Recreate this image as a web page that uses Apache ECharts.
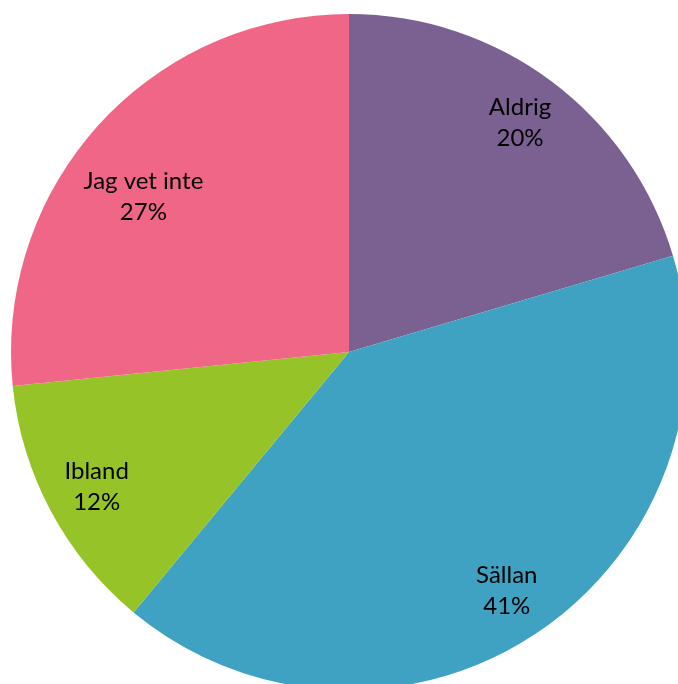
<!DOCTYPE html>
<html>
<head>
<meta charset="utf-8">
<script src="https://cdn.jsdelivr.net/npm/echarts@6/dist/echarts.min.js"></script>
<style>
  html, body { margin: 0; padding: 0; background: #fff; }
  #chart { width: 678px; height: 684px; }
</style>
</head>
<body>
<div id="chart"></div>
<script>
const categories = ["Aldrig", "Sällan", "Ibland", "Jag vet inte"];
const shares = [20.4, 40.6, 12.4, 26.6];
const colors = ["#7B6191", "#3FA2C2", "#96C428", "#EF6687"];
// which label layer each category's label sits on (0 = outer, 1 = inner)
const labelLayer = [0, 0, 0, 1];

const pieData = categories.map((name, i) => ({
    name: name,
    value: shares[i],
    itemStyle: { color: colors[i] }
}));

function labelSeries(layer, inner) {
    return {
        type: 'pie',
        center: [349, 352],
        radius: [inner, 338],
        startAngle: 90,
        clockwise: true,
        silent: true,
        itemStyle: { color: 'rgba(0,0,0,0)' },
        label: {
            position: 'inside',
            fontFamily: 'Lato',
            fontSize: 24,
            lineHeight: 31,
            color: '#000',
            formatter: p => {
                const pct = Math.round(p.percent) + '%';
                if (layer !== 1) return p.name + '\n' + pct;
                // spacers push the inner label down and to the left
                return '{gap|}\n' + p.name + '{sp|}\n' + pct + '{sp|}';
            },
            rich: {
                gap: { lineHeight: 40, fontSize: 1 },
                sp: { width: 24, fontSize: 1 }
            }
        },
        labelLine: { show: false },
        data: categories.map((name, i) => ({
            name: name,
            value: shares[i],
            label: { show: labelLayer[i] === layer }
        }))
    };
}

const chart = echarts.init(document.getElementById("chart"));
chart.setOption({
    animation: false,
    series: [
        {
            type: 'pie',
            center: [349, 352],
            radius: [0, 338],
            startAngle: 90,
            clockwise: true,
            silent: true,
            label: { show: false },
            labelLine: { show: false },
            data: pieData
        },
        labelSeries(0, 228),
        labelSeries(1, 178)
    ]
});
</script>
</body>
</html>
